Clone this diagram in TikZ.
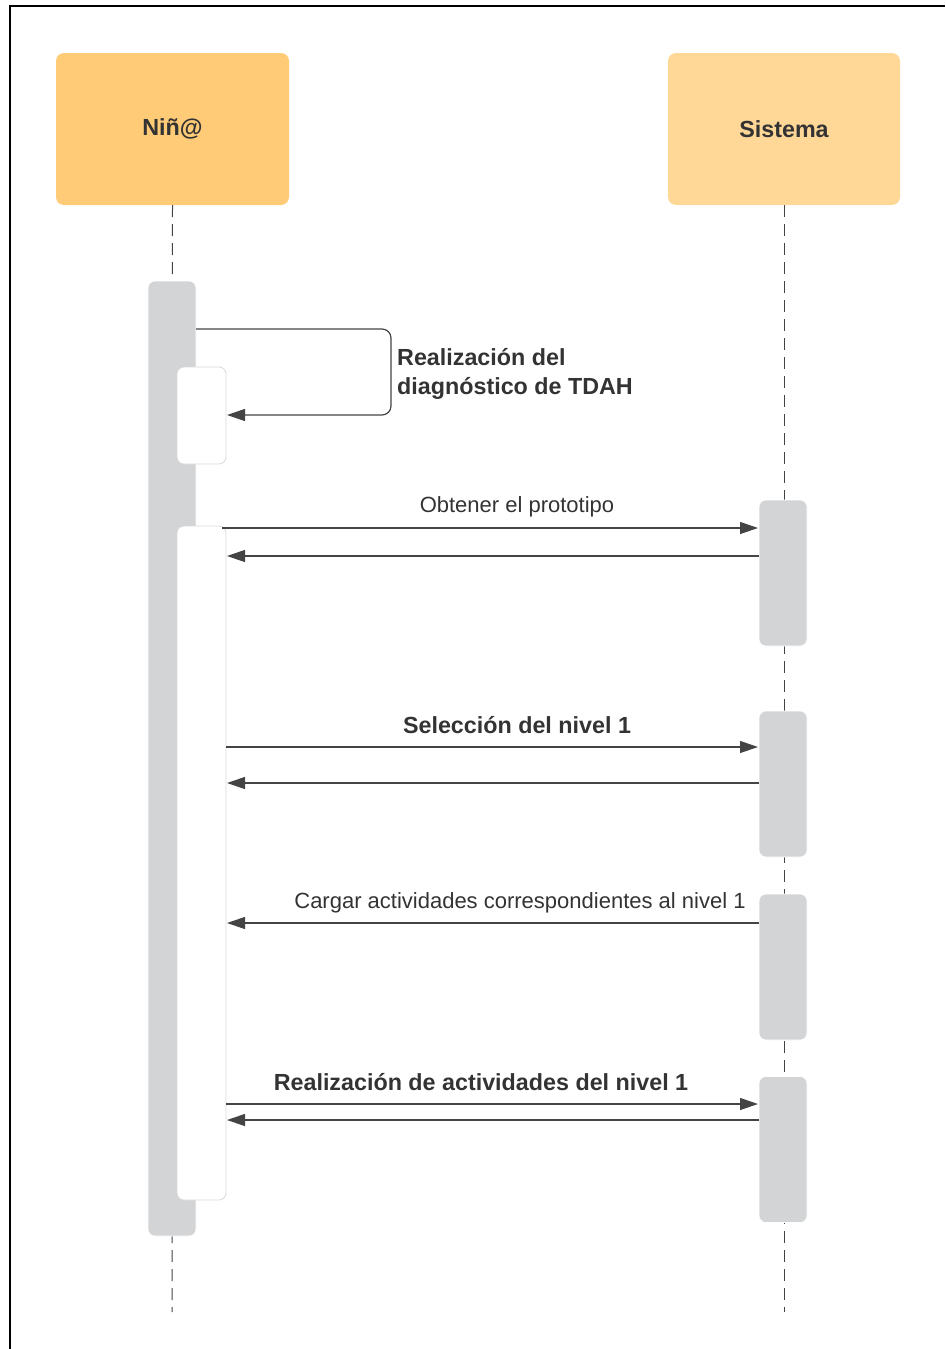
\documentclass[tikz,border=0pt]{standalone}
\usepackage{fontspec}
\setmainfont{Liberation Sans}
\usetikzlibrary{arrows.meta}
\definecolor{actorA}{HTML}{FFCB77}
\definecolor{actorB}{HTML}{FFD897}
\definecolor{barfill}{HTML}{D3D4D6}
\definecolor{inkdark}{HTML}{333333}
\definecolor{linedark}{HTML}{444444}
\definecolor{paleedge}{HTML}{DADADA}
\begin{document}
\begin{tikzpicture}[x=1pt,y=-1pt,
  actor/.style={rounded corners=8pt, inner sep=0pt, outer sep=0pt, text=inkdark,
    font=\fontsize{23.3}{27}\selectfont\bfseries},
  graybar/.style={fill=barfill, draw=white, line width=0.6pt, rounded corners=7pt,
    inner sep=0pt, outer sep=0pt, minimum width=48pt},
  whitebar/.style={fill=white, draw=paleedge, line width=0.8pt, rounded corners=7pt,
    inner sep=0pt, outer sep=0pt, minimum width=49pt},
  lifeline/.style={draw=linedark, line width=1pt, dash pattern=on 12pt off 7pt},
  msg/.style={draw=linedark, line width=1.2pt, -{Triangle[length=18pt,width=12pt]}},
  lbl/.style={text=inkdark, inner sep=0pt, font=\fontsize{22}{26}\selectfont},
  blbl/.style={text=inkdark, inner sep=0pt, font=\fontsize{23.3}{29}\selectfont\bfseries}]
\useasboundingbox (0,0) rectangle (945,1349);
% outer frame (left and top edges)
\draw[line width=2pt] (10,1349) -- (10,6) -- (945,6);

% participants
\node[actor, fill=actorA, minimum width=233pt, minimum height=152pt] (nino) at (172.5,129) {Niñ@};
\node[actor, fill=actorB, minimum width=232pt, minimum height=152pt] (sis) at (784,129) {Sistema};

% lifelines
\coordinate (endN) at (172,1312);
\coordinate (endS) at (784,1312);
\draw[lifeline] (nino.south) -- (endN);
\draw[lifeline] (sis.south) -- (endS);

% activation bars
\node[graybar, minimum height=955pt] (barN) at (172,758.5) {};
\node[whitebar, minimum height=97pt] (selfbox) at (201.5,415.5) {};
\node[whitebar, minimum height=674pt] (actN) at (201.5,863) {};
\node[graybar, minimum height=146pt] (sisA1) at (783,573) {};
\node[graybar, minimum height=146pt] (sisA2) at (783,784) {};
\node[graybar, minimum height=146pt] (sisA3) at (783,967) {};
\node[graybar, minimum height=146pt] (sisA4) at (783,1149.5) {};

% self message
\draw[msg, rounded corners=9pt] (barN.east |- 0,329) -- (391,329) -- (391,415) -- ([xshift=1pt]selfbox.east |- 0,415);
\node[blbl, anchor=west, align=left] (selfmsg) at (397,374) {Realización del\\diagnóstico de TDAH};

% messages
\draw[msg] ([xshift=-4pt]actN.east |- 0,528) -- ([xshift=-1pt]sisA1.west |- 0,528);
\node[lbl] (m1) at (517,507) {Obtener el prototipo};
\draw[msg] (sisA1.west |- 0,556) -- ([xshift=1pt]actN.east |- 0,556);

\draw[msg] (actN.east |- 0,747) -- ([xshift=-1pt]sisA2.west |- 0,747);
\node[blbl] (m2) at (517,725) {Selección del nivel 1};
\draw[msg] (sisA2.west |- 0,783) -- ([xshift=1pt]actN.east |- 0,783);

\draw[msg] (sisA3.west |- 0,923) -- ([xshift=1pt]actN.east |- 0,923);
\node[lbl] (m3) at (520,903) {Cargar actividades correspondientes al nivel 1};

\draw[msg] (actN.east |- 0,1104) -- ([xshift=-1pt]sisA4.west |- 0,1104);
\node[blbl] (m4) at (481,1082) {Realización de actividades del nivel 1};
\draw[msg] (sisA4.west |- 0,1120) -- ([xshift=1pt]actN.east |- 0,1120);
\end{tikzpicture}
\end{document}
